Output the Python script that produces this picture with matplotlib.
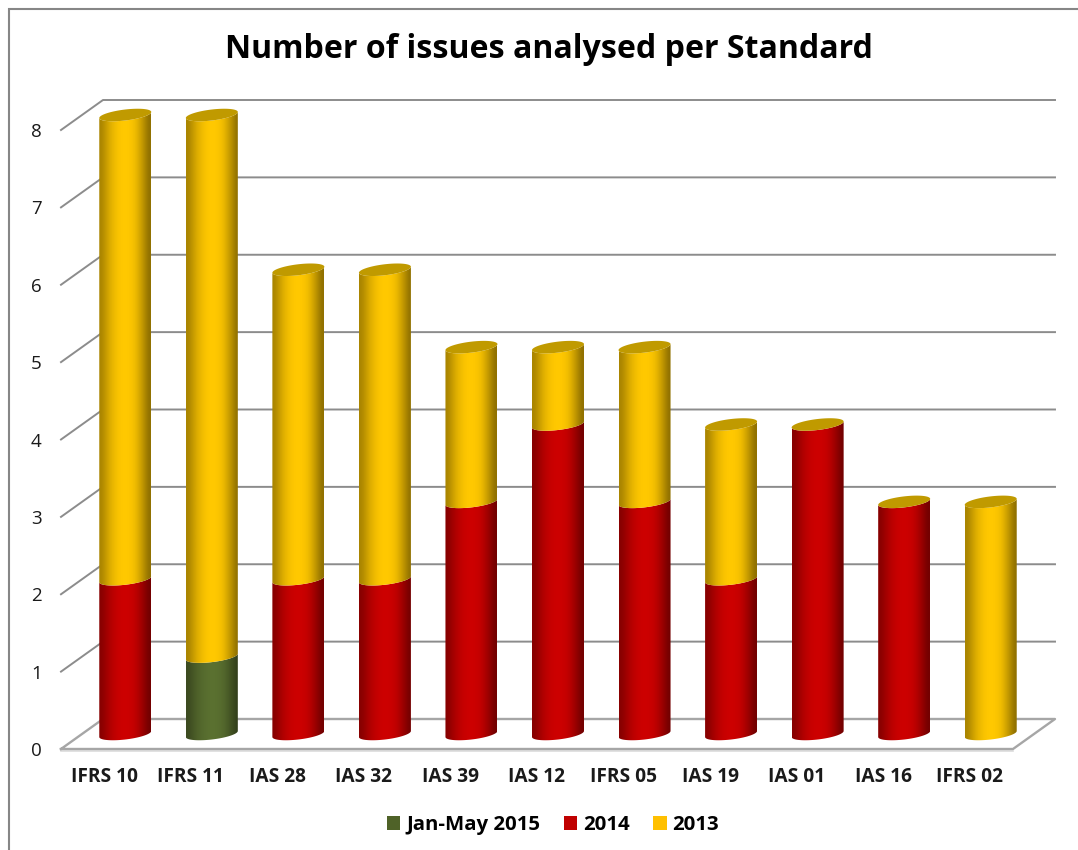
import numpy as np
import matplotlib
matplotlib.use("Agg")
import matplotlib.pyplot as plt
from matplotlib.patches import Patch, PathPatch, Rectangle
from matplotlib.path import Path
from matplotlib.colors import LinearSegmentedColormap

standards = ["IFRS 10", "IFRS 11", "IAS 28", "IAS 32", "IAS 39", "IAS 12",
             "IFRS 05", "IAS 19", "IAS 01", "IAS 16", "IFRS 02"]
jan_may_2015 = [0, 1, 0, 0, 0, 0, 0, 0, 0, 0, 0]
y2014 = [2, 0, 2, 2, 3, 4, 3, 2, 4, 3, 0]
y2013 = [6, 7, 4, 4, 2, 1, 2, 2, 0, 0, 3]
y_ticks = [0, 1, 2, 3, 4, 5, 6, 7, 8]

W, H = 1078, 850
# plot front plane in pixels
LEFT, RIGHT, TOP, BOTTOM = 61, 1013, 130, 749

fig = plt.figure(figsize=(W / 100, H / 100), dpi=100)
ax = fig.add_axes([LEFT / W, 1 - BOTTOM / H, (RIGHT - LEFT) / W, (BOTTOM - TOP) / H])
ax.set_xlim(-0.5, 10.5)
ax.set_ylim(0, 8)

# pixel sizes in data units
px_x = 11 / (RIGHT - LEFT)
px_y = 8 / (BOTTOM - TOP)
depth_x = 42 * px_x
depth_y = 30 * px_y
half_w = 26 * px_x
minor = 5.5 * px_y
tilt = 3 * px_y

GRID = "#8c8c8c"
for v in y_ticks[1:]:
    ax.plot([-0.5, -0.5 + depth_x, 10.5 + depth_x],
            [v, v + depth_y, v + depth_y],
            color=GRID, lw=1.4, clip_on=False, zorder=1)
# floor
ax.plot([-0.5, -0.5 + depth_x, 10.5 + depth_x, 10.5, -0.5],
        [0, depth_y, depth_y, 0, 0],
        color="#a6a6a6", lw=1.7, clip_on=False, zorder=1)
ax.plot([-0.5, 10.5], [-1.6 * px_y, -1.6 * px_y], color="#dcdcdc", lw=1.2,
        clip_on=False, zorder=0.9)

shade = np.array([0.66, 0.76, 0.86, 0.93, 0.98, 1.0, 1.0, 0.98, 0.93, 0.82, 0.70, 0.56])


def front_arc(xc, v, n=40):
    # lower edge of the sheared ellipse, left to right
    t = np.linspace(np.pi, 2 * np.pi, n)
    return xc + half_w * np.cos(t), v + minor * np.sin(t) + tilt * np.cos(t)


def cylinder(xc, v0, v1, color):
    xb, yb = front_arc(xc, v0)
    xt, yt = front_arc(xc, v1)
    verts = np.vstack([np.column_stack([xb, yb]),
                       np.column_stack([xt[::-1], yt[::-1]]),
                       [[xb[0], yb[0]]]])
    codes = [Path.MOVETO] + [Path.LINETO] * (len(verts) - 2) + [Path.CLOSEPOLY]
    clip = PathPatch(Path(verts, codes), transform=ax.transData, fc="none", ec="none",
                     clip_on=False)
    ax.add_patch(clip)
    cmap = LinearSegmentedColormap.from_list("bar", ["black", color])
    im = ax.imshow(shade[np.newaxis, :], cmap=cmap, vmin=0, vmax=1, aspect="auto",
                   interpolation="bicubic",
                   extent=(xc - half_w, xc + half_w, v0 - minor - tilt, v1 + minor + tilt),
                   zorder=3)
    im.set_clip_box(fig.bbox)
    im.set_clip_path(clip)


def cap(xc, v, color):
    t = np.linspace(0, 2 * np.pi, 80)
    ax.fill(xc + half_w * np.cos(t), v + minor * np.sin(t) + tilt * np.cos(t),
            color=color, lw=0, zorder=4, clip_on=False)


for i in range(len(standards)):
    xc = i + depth_x / 2
    base = depth_y / 2
    stack = 0
    for vals, col in ((jan_may_2015, "#5a7030"), (y2014, "#cc0000"), (y2013, "#ffc800")):
        if vals[i] > 0:
            cylinder(xc, base + stack, base + stack + vals[i], col)
            stack += vals[i]
    cap(xc, base + stack, "#c09a00")

ax.set_xlim(-0.5, 10.5)
ax.set_ylim(0, 8)

for s in ax.spines.values():
    s.set_visible(False)
ax.patch.set_visible(False)
ax.set_xticks(range(len(standards)))
ax.set_xticklabels(standards, fontfamily="Open Sans", fontweight="bold", fontsize=13.8, color="#1a1a1a")
ax.set_yticks(y_ticks)
ax.set_yticklabels([str(v) for v in y_ticks], fontfamily="Open Sans", fontsize=13.5, color="#1a1a1a")
ax.tick_params(axis="x", length=0, pad=13)
ax.tick_params(axis="y", length=0, pad=14)

fig.text(549 / W, 1 - 50 / H, "Number of issues analysed per Standard", ha="center", va="center",
         fontfamily="Open Sans", fontweight="bold", fontsize=23.1, color="black")

handles = [Patch(fc="#4f6228", label="Jan-May 2015"),
           Patch(fc="#c00000", label="2014"),
           Patch(fc="#ffc000", label="2013")]
fig.legend(handles=handles, loc="center", bbox_to_anchor=(553 / W, 1 - 825 / H), ncol=3,
           frameon=False, handlelength=0.65, handleheight=0.65, handletextpad=0.3,
           columnspacing=1.15, prop={"family": "Open Sans", "weight": "bold", "size": 14.7})

fig.add_artist(Rectangle((9 / W, -0.1), 1.1, 1 - 9 / H + 0.1, transform=fig.transFigure,
                         fc="none", ec="#868686", lw=1.5))

fig.savefig("out.png", dpi=100)
